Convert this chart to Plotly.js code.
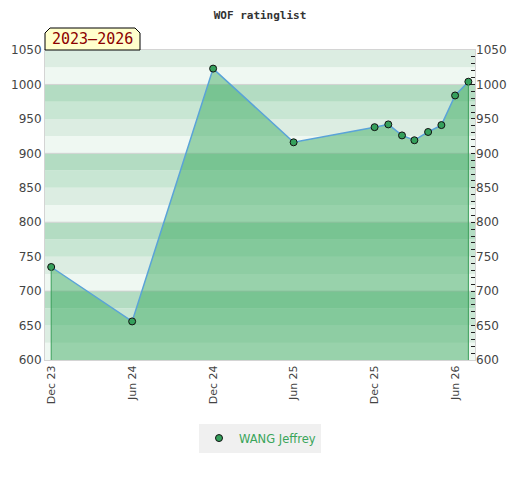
<!DOCTYPE html>
<html>
<head>
<meta charset="utf-8">
<script src="https://cdn.plot.ly/plotly-3.0.1.min.js"></script>
<style>html,body{margin:0;padding:0;background:#fff}#chart{width:520px;height:480px}</style>
</head>
<body>
<div id="chart"></div>
<script>
// Data
const dates = ['2023-12-01','2024-06-01','2024-12-01','2025-06-01','2025-12-01','2026-01-01','2026-02-01','2026-03-01','2026-04-01','2026-05-01','2026-06-01','2026-07-01'];
const ratings = [735, 656, 1023, 916, 938, 942, 926, 919, 931, 941, 984, 1004];
const playerName = 'WANG Jeffrey';
const periodLabel = '2023–2026';
const chartTitle = 'WOF ratinglist';

const yMin = 600, yMax = 1050;
const xRange = ['2023-11-17', '2026-07-16'];

// plot-area geometry (px) used for the label tab
const W = 520, H = 480, ML = 45, MR = 45, MT = 50, MB = 120;
const PW = W - ML - MR, PH = H - MT - MB;
const px = v => v / PW, py = v => v / PH;

// background bands (style)
const shapes = [];
for (let v = yMin; v < yMax; v += 25) {
  const k = ((v % 100) / 25);
  const col = {0: '#eff8f2', 1: '#dcede2', 2: '#c8e6d3', 3: '#b3dcc2'}[k];
  shapes.push({type: 'rect', xref: 'paper', yref: 'y', x0: 0, x1: 1, y0: v, y1: v + 25,
    fillcolor: col, line: {width: 0}, layer: 'below'});
}
[100, 200, 300, 400].forEach(d => shapes.push({type: 'line', xref: 'paper', yref: 'y', x0: 0, x1: 1,
  y0: yMin + d, y1: yMin + d, line: {color: '#d2d2d2', width: 1}, layer: 'below'}));

// tab with bevelled top corners
const tabW = px(95), tabH = py(22), bx = px(5), by = py(5);
shapes.push({type: 'path', xref: 'paper', yref: 'paper', layer: 'above',
  path: `M0,1 L0,${1 + tabH - by} L${bx},${1 + tabH} L${tabW - bx},${1 + tabH} L${tabW},${1 + tabH - by} L${tabW},1 Z`,
  fillcolor: '#ffffcc', line: {color: '#000', width: 1}});

const fillTrace = {
  x: dates, y: ratings, type: 'scatter', mode: 'lines+markers',
  fill: 'tozeroy', fillcolor: 'rgba(56,170,95,0.48)',
  line: {color: '#5aa3d8', width: 1.5},
  marker: {color: '#35a05c', size: 7, line: {color: '#111', width: 1}},
  showlegend: false, hoverinfo: 'x+y'
};
const edgeL = {x: [dates[0], dates[0]], y: [yMin, ratings[0]], type: 'scatter', mode: 'lines',
  line: {color: '#3a9e5a', width: 1}, showlegend: false, hoverinfo: 'skip'};
const last = dates.length - 1;
const edgeR = {x: [dates[last], dates[last]], y: [yMin, ratings[last]], type: 'scatter', mode: 'lines',
  line: {color: '#3a9e5a', width: 1}, showlegend: false, hoverinfo: 'skip'};
const legendTrace = {x: [null], y: [null], type: 'scatter', mode: 'markers', name: playerName,
  marker: {color: '#35a05c', size: 7, line: {color: '#111', width: 1}}, showlegend: true};
const rightTrace = {x: [dates[0]], y: [ratings[0]], yaxis: 'y2', type: 'scatter', mode: 'markers',
  marker: {opacity: 0}, showlegend: false, hoverinfo: 'skip'};

const tickFont = {family: 'DejaVu Sans, sans-serif', size: 12, color: '#444'};

const layout = {
  width: W, height: H,
  margin: {l: ML, r: MR, t: MT, b: MB, autoexpand: false},
  paper_bgcolor: '#ffffff', plot_bgcolor: '#ffffff',
  title: {text: '<b>' + chartTitle + '</b>', x: 0.5, xanchor: 'center', y: 0.976, yanchor: 'top',
    font: {family: 'DejaVu Sans Mono, monospace', size: 11, color: '#333'}},
  xaxis: {type: 'date', range: xRange, tick0: '2023-12-01', dtick: 'M6', tickformat: '%b %y',
    tickangle: -90, tickfont: {family: 'DejaVu Sans, sans-serif', size: 11, color: '#444'}, automargin: false,
    showgrid: false, zeroline: false, showline: true, linecolor: '#d4d4d4', linewidth: 1, mirror: true, ticks: ''},
  yaxis: {range: [yMin, yMax], dtick: 50, tickfont: tickFont, showgrid: false, zeroline: false, automargin: false,
    showline: true, linecolor: '#d4d4d4', linewidth: 1, mirror: true, ticks: ''},
  yaxis2: {range: [yMin, yMax], dtick: 50, overlaying: 'y', side: 'right', tickfont: tickFont, automargin: false,
    showgrid: false, zeroline: false, ticks: 'inside', ticklen: 4, tickcolor: '#222', tickwidth: 1,
    minor: {dtick: 10, ticks: 'inside', ticklen: 4, tickcolor: '#222', tickwidth: 1}, showline: false},
  shapes: shapes,
  annotations: [{text: periodLabel, xref: 'paper', yref: 'paper', x: px(47), y: 1 + py(11),
    xanchor: 'center', yanchor: 'middle', showarrow: false,
    font: {family: 'DejaVu Sans Mono, monospace', size: 15, color: '#8b0000'}}],
  legend: {orientation: 'h', x: 0.5, xanchor: 'center', y: -0.205, yanchor: 'top', bgcolor: '#f0f0f0',
    font: {family: 'DejaVu Sans, sans-serif', size: 11.5, color: '#3aa55a'}},
  showlegend: true
};

Plotly.newPlot('chart', [fillTrace, edgeL, edgeR, rightTrace, legendTrace], layout, {displayModeBar: false, staticPlot: true});
</script>
</body>
</html>
